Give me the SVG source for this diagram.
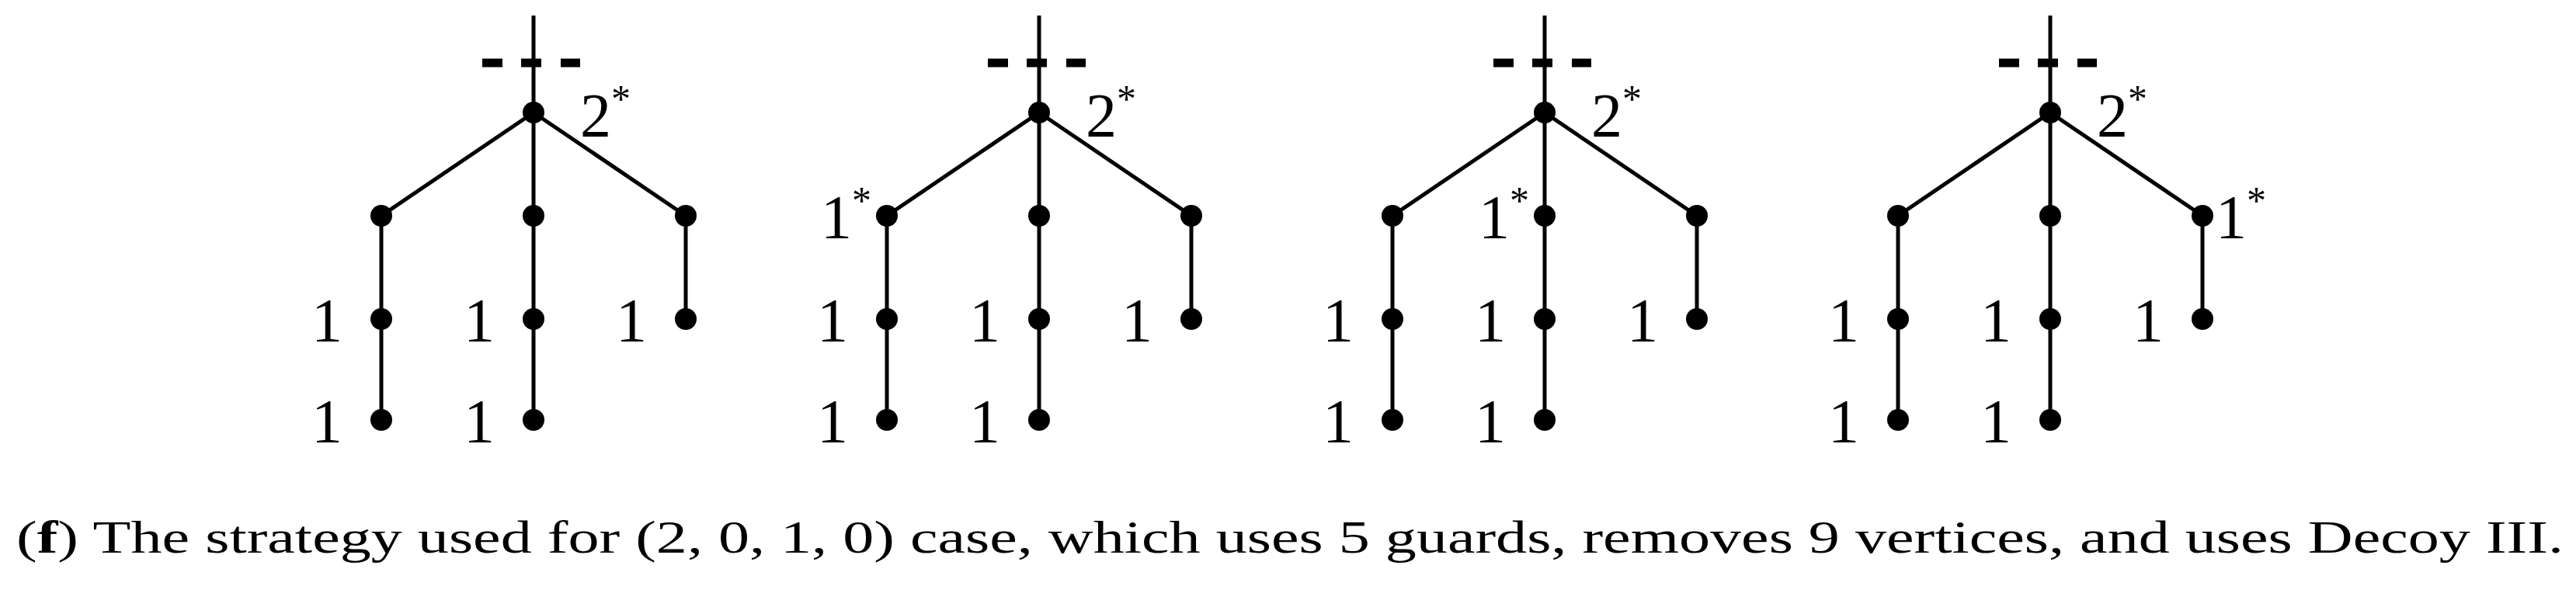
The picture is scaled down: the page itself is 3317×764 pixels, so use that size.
<svg xmlns="http://www.w3.org/2000/svg" width="3317" height="764" viewBox="0 0 3317 764">
<style>
.e{stroke:#000;stroke-width:5;fill:none}
.d{stroke:#000;stroke-width:11;fill:none}
.n{fill:#000}
text{font-family:"Liberation Serif","DejaVu Serif",serif;font-size:80px;fill:#000}
.s{font-size:50px}
.c{font-size:60px}
</style>
<defs>
<g id="tree">
<line class="e" x1="0" y1="20" x2="0" y2="145"/>
<line class="d" x1="-66" y1="81" x2="-40" y2="81"/>
<line class="d" x1="-16" y1="81" x2="10" y2="81"/>
<line class="d" x1="35" y1="81" x2="60" y2="81"/>
<line class="e" x1="0" y1="145" x2="-196" y2="278"/>
<line class="e" x1="0" y1="145" x2="0" y2="541"/>
<line class="e" x1="0" y1="145" x2="196" y2="278"/>
<line class="e" x1="-196" y1="278" x2="-196" y2="541"/>
<line class="e" x1="196" y1="278" x2="196" y2="411"/>
<circle class="n" cx="0" cy="145" r="14"/>
<circle class="n" cx="-196" cy="278" r="14"/>
<circle class="n" cx="0" cy="278" r="14"/>
<circle class="n" cx="196" cy="278" r="14"/>
<circle class="n" cx="-196" cy="411" r="14"/>
<circle class="n" cx="0" cy="411" r="14"/>
<circle class="n" cx="196" cy="411" r="14"/>
<circle class="n" cx="-196" cy="541" r="14"/>
<circle class="n" cx="0" cy="541" r="14"/>
<text x="60" y="176">2<tspan class="s" dy="-32">*</tspan></text>
<text x="-246" y="440" text-anchor="end">1</text>
<text x="-50" y="440" text-anchor="end">1</text>
<text x="146" y="440" text-anchor="end">1</text>
<text x="-246" y="570" text-anchor="end">1</text>
<text x="-50" y="570" text-anchor="end">1</text>
</g>
</defs>
<g id="t1"><use href="#tree" x="687" y="0"/></g>
<g id="t2"><use href="#tree" x="1338" y="0"/><text x="1122" y="307" text-anchor="end">1<tspan class="s" dy="-32">*</tspan></text></g>
<g id="t3"><use href="#tree" x="1989" y="0"/><text x="1969" y="307" text-anchor="end">1<tspan class="s" dy="-32">*</tspan></text></g>
<g id="t4"><use href="#tree" x="2640" y="0"/><text x="2853" y="307">1<tspan class="s" dy="-32">*</tspan></text></g>
<text class="c" x="21" y="712" textLength="3280" lengthAdjust="spacingAndGlyphs">(<tspan font-weight="bold">f</tspan>) The strategy used for (2, 0, 1, 0) case, which uses 5 guards, removes 9 vertices, and uses Decoy III.</text>
</svg>
